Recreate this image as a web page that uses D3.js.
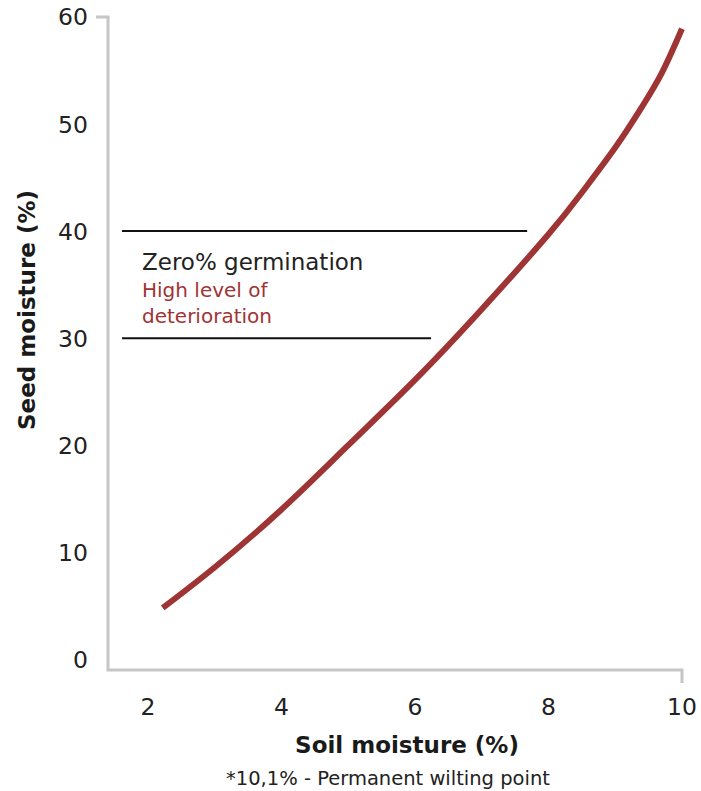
<!DOCTYPE html>
<html>
<head>
<meta charset="utf-8">
<script src="https://cdn.jsdelivr.net/npm/d3@7"></script>
<style>
  body { margin: 0; background: #fff; }
</style>
</head>
<body>
<div id="container"></div>
<script>
// values
var soil = [2.22, 3, 4, 5, 6, 7, 8, 8.5, 9, 9.4, 9.7, 10];
var seed = [4.8, 8.6, 14.0, 20.0, 26.1, 32.7, 39.7, 43.6, 47.8, 51.6, 54.8, 58.9];
var xTicks = [2, 4, 6, 8, 10];
var yTicks = [0, 10, 20, 30, 40, 50, 60];
var bandLevels = [40, 30];
var bandStart = [1.61, 1.61];
var bandEnd = [7.68, 6.24];

var width = 701, height = 791;
var red = '#9e3434';
var font = '"DejaVu Sans", sans-serif';

var svg = d3.select('#container')
      .append('svg')
      .attr('width', width)
      .attr('height', height);

var x = d3.scaleLinear().domain([1.4, 10]).range([108, 682]);
var y = d3.scaleLinear().domain([-1, 60]).range([670, 17]);

// axis frame: outer tick at top of y axis and right end of x axis
svg.append('path')
  .attr('d', 'M' + (x(1.4) - 12) + ',' + y(60) + 'H' + x(1.4) + 'V' + y(-1) + 'H' + x(10) + 'V' + (y(-1) + 13))
  .attr('fill', 'none')
  .attr('stroke', '#c6c6c6')
  .attr('stroke-width', 3);

svg.selectAll('.ytick')
  .data(yTicks)
  .enter()
  .append('text')
  .attr('x', 88)
  .attr('y', function(d) { return y(d); })
  .attr('dy', '0.36em')
  .attr('text-anchor', 'end')
  .style('font-family', font)
  .style('font-size', '23.5px')
  .attr('fill', '#222')
  .text(function(d) { return d; });

svg.selectAll('.xtick')
  .data(xTicks)
  .enter()
  .append('text')
  .attr('x', function(d) { return x(d); })
  .attr('y', 715)
  .attr('text-anchor', 'middle')
  .style('font-family', font)
  .style('font-size', '23.5px')
  .attr('fill', '#222')
  .text(function(d) { return d; });

// threshold lines
svg.selectAll('.band')
  .data(bandLevels)
  .enter()
  .append('line')
  .attr('x1', function(d, i) { return x(bandStart[i]); })
  .attr('x2', function(d, i) { return x(bandEnd[i]); })
  .attr('y1', function(d) { return y(d); })
  .attr('y2', function(d) { return y(d); })
  .attr('stroke', '#111')
  .attr('stroke-width', 2);

svg.append('text')
  .attr('x', 142).attr('y', 270)
  .style('font-family', font)
  .style('font-size', '23px')
  .attr('fill', '#222')
  .text('Zero% germination');
svg.append('text')
  .attr('x', 142).attr('y', 297)
  .style('font-family', font)
  .style('font-size', '20px')
  .attr('fill', red)
  .text('High level of');
svg.append('text')
  .attr('x', 142).attr('y', 323)
  .style('font-family', font)
  .style('font-size', '20px')
  .attr('fill', red)
  .text('deterioration');

// curve
var line = d3.line()
  .x(function(d) { return x(d[0]); })
  .y(function(d) { return y(d[1]); })
  .curve(d3.curveNatural);

svg.append('path')
  .datum(d3.zip(soil, seed))
  .attr('d', line)
  .attr('fill', 'none')
  .attr('stroke', red)
  .attr('stroke-width', 6);

// axis titles
svg.append('text')
  .attr('x', 407).attr('y', 753)
  .attr('text-anchor', 'middle')
  .style('font-family', font)
  .style('font-weight', 'bold')
  .style('font-size', '23px')
  .attr('fill', '#1a1a1a')
  .text('Soil moisture (%)');

svg.append('text')
  .attr('transform', 'translate(35,310) rotate(-90)')
  .attr('text-anchor', 'middle')
  .style('font-family', font)
  .style('font-weight', 'bold')
  .style('font-size', '23px')
  .attr('fill', '#1a1a1a')
  .text('Seed moisture (%)');

svg.append('text')
  .attr('x', 388).attr('y', 785)
  .attr('text-anchor', 'middle')
  .style('font-family', font)
  .style('font-size', '19.5px')
  .attr('fill', '#222')
  .text('*10,1% - Permanent wilting point');
</script>
</body>
</html>
